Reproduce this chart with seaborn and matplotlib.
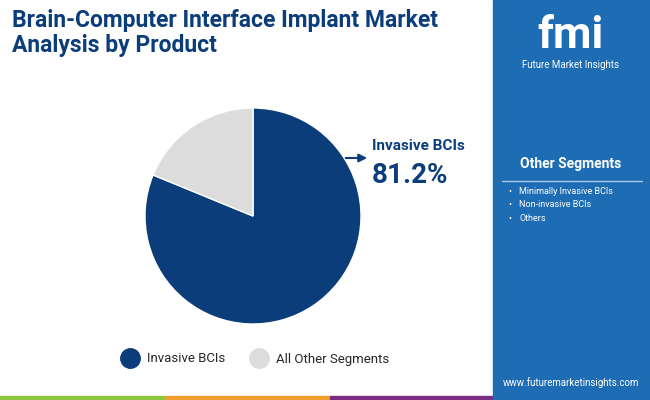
import matplotlib.pyplot as plt
import matplotlib.patches as mpatches
import seaborn as sns

segments = ["Invasive BCIs", "All Other Segments"]
shares = [81.2, 18.8]
colors = ["#0b3d7a", "#dcdcdc"]
other_items = ["Minimally Invasive BCIs", "Non-invasive BCIs", "Others"]

sns.set_theme(style="white")
plt.rcParams["font.family"] = "Roboto"

fig = plt.figure(figsize=(6.5, 4), dpi=100)
fig.patch.set_facecolor("white")

# right panel
fig.add_artist(mpatches.Rectangle((493 / 650, 0), 157 / 650, 1, transform=fig.transFigure,
                                  color="#1e6cb3", zorder=0))
# bottom stripe
for x0, x1, c in [(0, 165, "#8cc63e"), (165, 330, "#f0a030"), (330, 493, "#7b2c83"), (493, 650, "#1e6cb3")]:
    fig.add_artist(mpatches.Rectangle((x0 / 650, 0), (x1 - x0) / 650, 4 / 400,
                                      transform=fig.transFigure, color=c, zorder=1))

fig.text(12 / 650, 1 - 33 / 400, "Brain-Computer Interface Implant Market\nAnalysis by Product",
         fontsize=16.5, fontweight="bold", color="#0b3d7a", va="center", linespacing=1.1)

ax = fig.add_axes([(253 - 108) / 650, (400 - 216 - 108) / 400, 216 / 650, 216 / 400])
ax.pie(shares, colors=colors, startangle=90, counterclock=False)
ax.set_xlim(-1, 1)
ax.set_ylim(-1, 1)
ax.set_aspect("equal")

ax.annotate("", xy=(370, 242), xycoords="figure pixels", xytext=(343, 242),
            arrowprops=dict(arrowstyle="-|>", color="#0b3d7a", lw=1.5))
fig.text(372 / 650, 1 - 146 / 400, "Invasive BCIs", fontsize=11, fontweight="bold", color="#0b3d7a", va="center")
fig.text(372 / 650, 1 - 176 / 400, "81.2%", fontsize=20, fontweight="bold", color="#0b3d7a", va="center")

# legend
handles = [plt.Line2D([], [], marker="o", ls="", markersize=14, color=c) for c in colors]
fig.legend(handles, segments, loc="center", bbox_to_anchor=(253 / 650, 1 - 359 / 400), ncol=2,
           frameon=False, fontsize=9.5, handletextpad=0.3, columnspacing=1.5)

# side panel text
fig.text(571 / 650, 1 - 36 / 400, "fmi", fontsize=32, fontweight="bold", color="white", ha="center", va="center")
fig.text(571 / 650, 1 - 65 / 400, "Future Market Insights", fontsize=7, color="white", ha="center", va="center")
fig.text(571 / 650, 1 - 164 / 400, "Other Segments", fontsize=10, fontweight="bold", color="white", ha="center", va="center")
fig.add_artist(plt.Line2D([502 / 650, 642 / 650], [1 - 181 / 400] * 2, transform=fig.transFigure,
                          color="#a8c8e8", lw=1))
for i, item in enumerate(other_items):
    y = 1 - (192 + i * 13) / 400
    fig.text(508 / 650, y, "•", fontsize=6.5, color="white", va="center")
    fig.text(519 / 650, y, item, fontsize=6.5, color="white", va="center")
fig.text(571 / 650, 1 - 383 / 400, "www.futuremarketinsights.com", fontsize=7, color="white", ha="center", va="center")

fig.savefig("out.png", dpi=100)
